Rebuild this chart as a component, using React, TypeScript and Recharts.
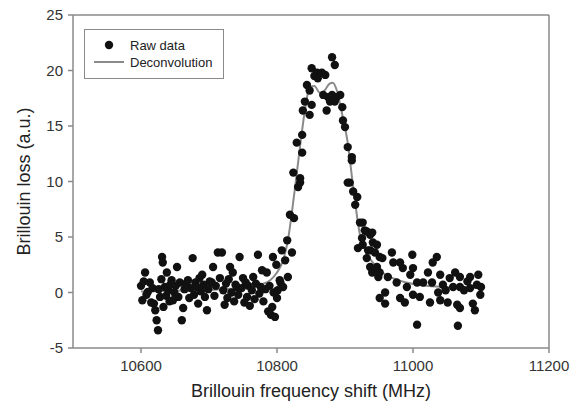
import React from "react";
import {
  ComposedChart,
  Scatter,
  Line,
  XAxis,
  YAxis,
  ZAxis,
  Label,
  ReferenceLine,
} from "recharts";

// Raw Brillouin loss samples, [frequency MHz, loss a.u.]
const lowSide: [number, number][] = [
  [10600, 0.6], [10602, -0.7], [10604, 1.0], [10606, 1.8], [10608, -0.2],
  [10610, 0.05], [10613, 0.9], [10615, -0.9], [10617, 0.4], [10619, -1.0],
  [10621, -1.6], [10623, -2.5], [10625, -3.4], [10626, 0.3], [10628, -0.4],
  [10630, 1.2], [10631, 3.2], [10632, 2.7], [10633, -1.3], [10635, 0.5],
  [10637, -0.3], [10638, 1.8], [10640, 0.2], [10642, -0.8], [10643, 0.7],
  [10645, 1.1], [10647, -0.7], [10649, 0.0], [10651, 0.6], [10653, 2.3],
  [10655, -0.4], [10657, 0.9], [10660, -2.5], [10662, -1.4], [10664, 0.3],
  [10666, 0.8], [10669, 1.1], [10671, -0.5], [10673, 0.4], [10676, 3.1],
  [10678, -0.2], [10680, 0.9], [10682, 0.5], [10684, -1.0], [10686, 1.3],
  [10688, 0.1], [10690, 1.6], [10692, 0.7], [10694, -0.4], [10697, -1.6],
  [10699, 0.3], [10701, 1.0], [10704, 0.9], [10706, 2.3], [10708, -0.3],
  [10710, 0.6], [10713, 3.6], [10716, 1.3], [10719, 3.6], [10721, 0.2],
  [10723, -1.1], [10725, 0.8], [10727, -0.5], [10729, 1.2], [10731, 2.3],
  [10733, 0.0], [10735, 1.8], [10737, -0.8], [10739, 0.7], [10741, 0.5],
  [10743, -0.2], [10745, 3.2], [10748, 0.4], [10750, 1.3], [10752, -0.9],
  [10754, 0.9], [10756, -0.4], [10758, 0.6], [10760, -1.2], [10763, 0.2],
  [10765, 1.4], [10767, -0.6], [10769, 0.8], [10772, 3.4], [10774, -0.1],
  [10776, 0.5], [10778, 2.0], [10780, -0.8], [10783, 0.3], [10785, 1.8],
  [10787, -1.7], [10789, 0.6], [10791, -2.0], [10793, -1.3], [10794, 3.2],
  [10795, 0.0], [10797, -2.2], [10799, 2.5], [10800, -0.5], [10801, 0.2],
  [10804, 1.1], [10805, 0.9], [10807, 3.8], [10809, 0.5], [10812, 2.9],
  [10815, 4.7], [10816, 1.4],
];

const peakSide: [number, number][] = [
  [10819, 7.0], [10822, 3.6], [10824, 10.8], [10825, 6.7], [10829, 13.5],
  [10831, 9.5], [10834, 10.3], [10834, 9.9], [10837, 14.2], [10837, 12.6],
  [10838, 16.4], [10841, 17.2], [10844, 18.7], [10848, 18.2], [10848, 16.0],
  [10851, 20.2], [10851, 16.9], [10855, 19.5], [10859, 19.8], [10860, 19.3],
  [10866, 19.8], [10868, 17.8], [10871, 19.6], [10873, 16.4], [10875, 17.6],
  [10878, 17.2], [10881, 21.2], [10881, 17.8], [10885, 20.5], [10885, 17.2],
  [10888, 17.6], [10893, 17.8], [10896, 16.7], [10897, 15.5], [10900, 14.9],
  [10904, 13.1], [10904, 9.9], [10907, 9.9], [10910, 12.2], [10910, 11.9],
  [10912, 9.1], [10915, 7.9], [10918, 8.6], [10919, 4.0], [10922, 6.3],
  [10925, 4.9], [10926, 6.3], [10926, 4.3],
];

const highSide: [number, number][] = [
  [10929, 5.6], [10932, 5.5], [10932, 3.1], [10934, 3.8], [10937, 5.2],
  [10937, 3.8], [10937, 2.3], [10940, 5.4], [10940, 1.8], [10941, 4.5],
  [10944, 3.6], [10947, 4.3], [10947, 2.3], [10949, 1.4], [10951, 3.2],
  [10951, 1.8], [10951, -0.5], [10955, 3.1], [10959, 0.0], [10959, -1.0],
  [10963, 1.4], [10969, 3.6], [10971, 2.7], [10976, 0.9], [10981, 2.7],
  [10981, -0.5], [10985, 2.2], [10988, -0.9], [10991, 0.5], [10996, 1.6],
  [10999, 3.4], [11000, 2.2], [11000, -0.2], [11006, 0.9], [11006, -2.9],
  [11010, -0.4], [11015, 0.9], [11022, 1.8], [11025, -0.9], [11028, 0.9],
  [11029, 2.7], [11035, 3.2], [11037, 0.0], [11040, 1.6], [11040, -0.7],
  [11044, 0.7], [11048, 0.2], [11051, -0.9], [11054, 1.3], [11059, 0.5],
  [11062, 1.8], [11065, -1.1], [11066, -3.0], [11069, 1.4], [11069, 0.5],
  [11069, -1.4], [11075, 0.2], [11080, 1.0], [11084, 1.4], [11084, 0.4],
  [11088, -1.0], [11091, -1.6], [11094, 0.7], [11096, 1.6], [11099, -0.2],
  [11100, 0.5],
];

// Deconvolved profile
const fitFreq = [
  10600, 10650, 10700, 10750, 10775, 10790, 10800, 10809, 10816, 10826,
  10835, 10842, 10848, 10855, 10863, 10870, 10877, 10882, 10888, 10896,
  10904, 10912, 10922, 10932, 10941, 10955, 10966, 10990, 11020, 11060, 11100,
];
const fitLoss = [
  0.1, 0.15, 0.25, 0.4, 0.7, 1.1, 1.8, 2.9, 4.7, 9.2,
  13.7, 16.8, 18.5, 18.6, 18.0, 18.2, 18.8, 18.9, 18.2, 16.0,
  13.5, 9.5, 5.2, 3.5, 2.7, 1.8, 1.4, 0.9, 0.6, 0.45, 0.4,
];

const freqDomain = [10500, 11200];
const freqTicks = [10600, 10800, 11000, 11200];
const lossDomain = [-5, 25];
const lossTicks = [-5, 0, 5, 10, 15, 20, 25];

const RAW_NAME = "Raw data";
const FIT_NAME = "Deconvolution";

const FONT = "'Liberation Sans', Arial, sans-serif";
const AXIS_GRAY = "#8a8a8a";

const rawData = [...lowSide, ...peakSide, ...highSide].map(([f, v]) => ({ f, v }));
const fitData = fitFreq.map((f, i) => ({ f, v: fitLoss[i] }));

// legend box sits inside the plot, top-left
function LegendBox() {
  return (
    <div
      style={{
        position: "absolute",
        left: 84,
        top: 29,
        border: `1.5px solid ${AXIS_GRAY}`,
        width: 140,
        height: 50,
        boxSizing: "border-box",
        background: "#fff",
        fontFamily: FONT,
        fontSize: 13,
        color: "#222",
      }}
    >
      <svg width={40} height={46} style={{ position: "absolute", left: 6, top: 0 }}>
        <circle cx={18} cy={15} r={4.2} fill="#111" />
        <line x1={3} x2={33} y1={32} y2={32} stroke={AXIS_GRAY} strokeWidth={2} />
      </svg>
      <div style={{ position: "absolute", left: 45, top: 8, lineHeight: "15px" }}>{RAW_NAME}</div>
      <div style={{ position: "absolute", left: 45, top: 25, lineHeight: "15px" }}>{FIT_NAME}</div>
    </div>
  );
}

export default function App() {
  return (
    <div style={{ position: "absolute", left: 0, top: 0, width: 577, height: 412, background: "#fff" }}>
      <ComposedChart
        width={577}
        height={412}
        margin={{ top: 15, right: 28, left: 13, bottom: 14 }}
      >
        <XAxis
          type="number"
          dataKey="f"
          domain={freqDomain}
          ticks={freqTicks}
          allowDataOverflow
          height={50}
          stroke={AXIS_GRAY}
          strokeWidth={1.5}
          tickSize={5}
          tickMargin={7}
          tick={{ fill: "#333", fontSize: 15, fontFamily: FONT }}
        >
          <Label
            content={({ viewBox }: any) => (
              <text
                x={viewBox.x + viewBox.width / 2}
                y={viewBox.y + 49}
                textAnchor="middle"
                fill="#222"
                fontSize={18}
                fontFamily={FONT}
              >
                Brillouin frequency shift (MHz)
              </text>
            )}
          />
        </XAxis>
        <YAxis
          type="number"
          dataKey="v"
          domain={lossDomain}
          ticks={lossTicks}
          allowDataOverflow
          width={60}
          stroke={AXIS_GRAY}
          strokeWidth={1.5}
          tickSize={5}
          tickMargin={5}
          tick={{ fill: "#333", fontSize: 15, fontFamily: FONT }}
        >
          <Label
            content={({ viewBox }: any) => {
              const cx = viewBox.x + 11;
              const cy = viewBox.y + viewBox.height / 2;
              return (
                <text
                  x={cx}
                  y={cy}
                  transform={`rotate(-90, ${cx}, ${cy})`}
                  textAnchor="middle"
                  dominantBaseline="central"
                  fill="#222"
                  fontSize={18}
                  fontFamily={FONT}
                >
                  Brillouin loss (a.u.)
                </text>
              );
            }}
          />
        </YAxis>
        <ZAxis range={[55, 55]} />
        <ReferenceLine y={lossDomain[1]} stroke={AXIS_GRAY} strokeWidth={1.5} />
        <ReferenceLine x={freqDomain[1]} stroke={AXIS_GRAY} strokeWidth={1.5} />
        <Scatter
          name={RAW_NAME}
          data={rawData}
          fill="#111"
          shape="circle"
          isAnimationActive={false}
        />
        <Line
          name={FIT_NAME}
          data={fitData}
          dataKey="v"
          type="monotone"
          stroke={AXIS_GRAY}
          strokeWidth={2}
          dot={false}
          activeDot={false}
          isAnimationActive={false}
        />
      </ComposedChart>
      <LegendBox />
    </div>
  );
}
